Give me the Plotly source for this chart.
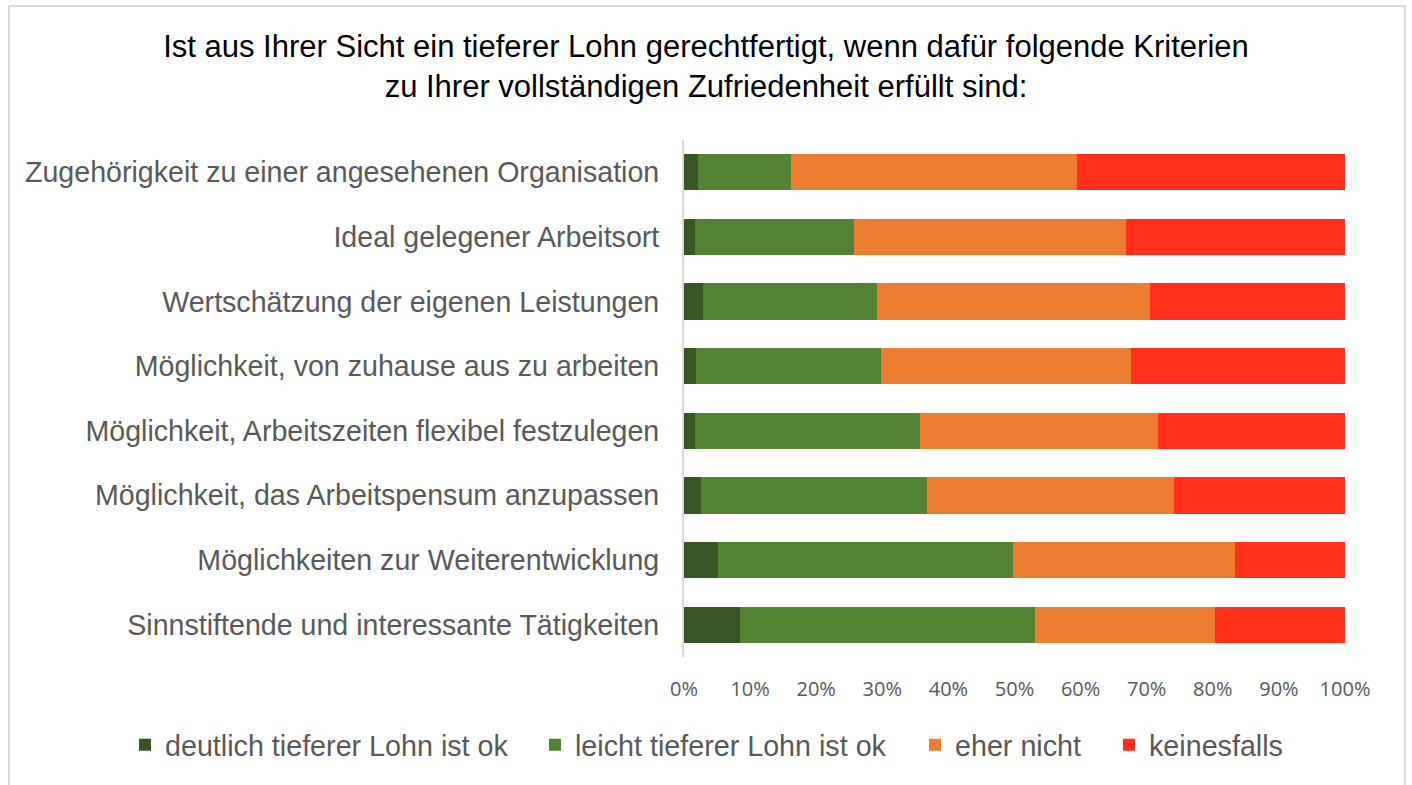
import plotly.graph_objects as go

categories = [
    "Zugehörigkeit zu einer angesehenen Organisation",
    "Ideal gelegener Arbeitsort",
    "Wertschätzung der eigenen Leistungen",
    "Möglichkeit, von zuhause aus zu arbeiten",
    "Möglichkeit, Arbeitszeiten flexibel festzulegen",
    "Möglichkeit, das Arbeitspensum anzupassen",
    "Möglichkeiten zur Weiterentwicklung",
    "Sinnstiftende und interessante Tätigkeiten",
]
deutlich = [2.1, 1.7, 2.9, 1.8, 1.6, 2.6, 5.1, 8.4]
leicht = [14.1, 24.0, 26.3, 28.0, 34.1, 34.1, 44.7, 44.7]
eher_nicht = [43.2, 41.2, 41.3, 37.8, 36.0, 37.5, 33.6, 27.3]
keinesfalls = [40.6, 33.1, 29.5, 32.4, 28.3, 25.8, 16.6, 19.6]

series_names = ["deutlich tieferer Lohn ist ok", "leicht tieferer Lohn ist ok", "eher nicht", "keinesfalls"]
series_values = [deutlich, leicht, eher_nicht, keinesfalls]
colors = ["#375623", "#548235", "#ED7D31", "#FF3019"]
legend_ids = ["legend", "legend2", "legend3", "legend4"]

tick_vals = [0, 10, 20, 30, 40, 50, 60, 70, 80, 90, 100]
tick_text = ["0%", "10%", "20%", "30%", "40%", "50%", "60%", "70%", "80%", "90%", "100%"]

W, H = 1412, 785
L, R, T, B = 684, 67, 140, 128
pw, ph = W - L - R, H - T - B

def px_x(x):
    return (x - L) / pw

def px_y(y):
    return (H - B - y) / ph

fig = go.Figure()
for name, vals, col, lg in zip(series_names, series_values, colors, legend_ids):
    fig.add_trace(go.Bar(
        y=categories, x=vals, name=name, orientation="h",
        marker=dict(color=col, line=dict(width=0)),
        legend=lg,
    ))

legend_font = dict(family="Liberation Sans, Arial, sans-serif", size=28.7, color="#595959")
legend_x_px = [125, 535, 915, 1109]
legend_layouts = {}
for lg, xp in zip(legend_ids, legend_x_px):
    legend_layouts[lg] = dict(
        x=px_x(xp), xanchor="left", y=px_y(745), yanchor="middle",
        orientation="h", font=legend_font, bgcolor="rgba(0,0,0,0)",
        borderwidth=0, itemclick=False, itemdoubleclick=False,
    )

fig.update_layout(
    width=W, height=H,
    margin=dict(l=L, r=R, t=T, b=B, pad=0),
    barmode="stack",
    bargap=0.44,
    plot_bgcolor="white",
    paper_bgcolor="white",
    title=dict(
        text="Ist aus Ihrer Sicht ein tieferer Lohn gerechtfertigt, wenn dafür folgende Kriterien<br>zu Ihrer vollständigen Zufriedenheit erfüllt sind:",
        x=0.5, xref="container", xanchor="center",
        y=1 - 57 / H, yref="container", yanchor="middle",
        font=dict(family="Liberation Sans, Arial, sans-serif", size=31, color="#000000"),
    ),
    xaxis=dict(
        range=[0, 100], tickvals=tick_vals, ticktext=tick_text,
        showgrid=False, zeroline=False, showline=False, ticks="",
        tickfont=dict(family="Open Sans, sans-serif", size=20, color="#595959"),
        ticklabelstandoff=18, fixedrange=True,
    ),
    yaxis=dict(
        autorange="reversed", categoryorder="array", categoryarray=categories,
        showgrid=False, zeroline=False, showline=True, linecolor="#D9D9D9", linewidth=2,
        ticks="", ticklabelstandoff=17,
        tickfont=dict(family="Liberation Sans, Arial, sans-serif", size=28.6, color="#595959"),
        fixedrange=True,
    ),
    showlegend=True,
    **legend_layouts,
    shapes=[dict(
        type="rect", xref="paper", yref="paper",
        x0=px_x(9), x1=px_x(1405), y0=px_y(800), y1=px_y(6),
        line=dict(color="#D9D9D9", width=2), fillcolor="rgba(0,0,0,0)", layer="below",
    )],
)

fig.write_html(
    "out.html",
    config={"displayModeBar": False},
    post_script="document.body.style.margin='0';document.body.style.padding='0';document.body.style.overflow='hidden';",
)
